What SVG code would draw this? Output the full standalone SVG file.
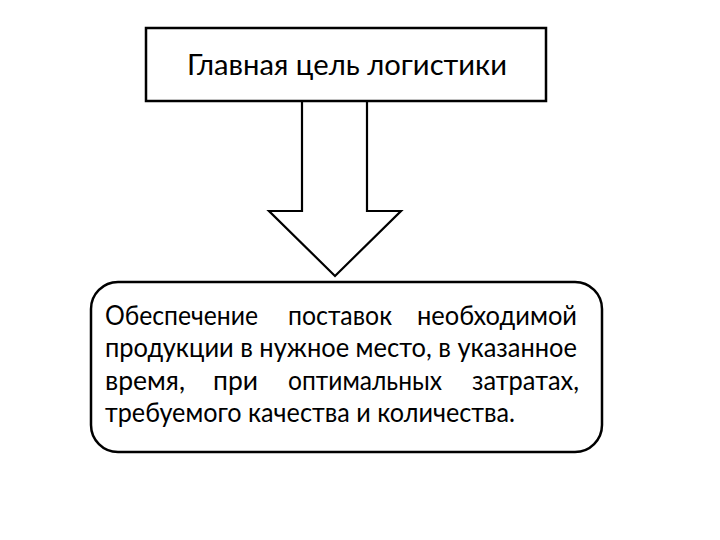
<svg xmlns="http://www.w3.org/2000/svg" width="720" height="540" viewBox="0 0 720 540">
<style>
.box{fill:#fff;stroke:#000;stroke-width:2.5}
.arrow{fill:#fff;stroke:#000;stroke-width:2.2;stroke-linejoin:miter}
.t{font-family:Lato,"Open Sans","Noto Sans",sans-serif;fill:#000}
.title{font-size:28px}
.body{font-size:27px}
</style>
<rect width="720" height="540" fill="#fff"/>
<g id="connectors">
<polygon class="arrow" points="302,101 367,101 367,211 401,211 335,276 269,211 302,211"/>
</g>
<g id="node-goal">
<rect class="box" x="146" y="28" width="400" height="73"/>
<text class="t title" x="187" y="75" textLength="320" lengthAdjust="spacingAndGlyphs">Главная цель логистики</text>
</g>
<g id="node-definition">
<rect class="box" x="91" y="282" width="511" height="170" rx="27" ry="27"/>
<g class="t body">
<text x="105" y="325" textLength="153" lengthAdjust="spacingAndGlyphs">Обеспечение</text>
<text x="288" y="325" textLength="104" lengthAdjust="spacingAndGlyphs">поставок</text>
<text x="417" y="325" textLength="160" lengthAdjust="spacingAndGlyphs">необходимой</text>
<text x="105" y="357" textLength="472" lengthAdjust="spacingAndGlyphs">продукции в нужное место, в указанное</text>
<text x="105" y="390" textLength="80" lengthAdjust="spacingAndGlyphs">время,</text>
<text x="213" y="390" textLength="45" lengthAdjust="spacingAndGlyphs">при</text>
<text x="288" y="390" textLength="154" lengthAdjust="spacingAndGlyphs">оптимальных</text>
<text x="472" y="390" textLength="107" lengthAdjust="spacingAndGlyphs">затратах,</text>
<text x="105" y="422" textLength="410" lengthAdjust="spacingAndGlyphs">требуемого качества и количества.</text>
</g>
</g>
</svg>
